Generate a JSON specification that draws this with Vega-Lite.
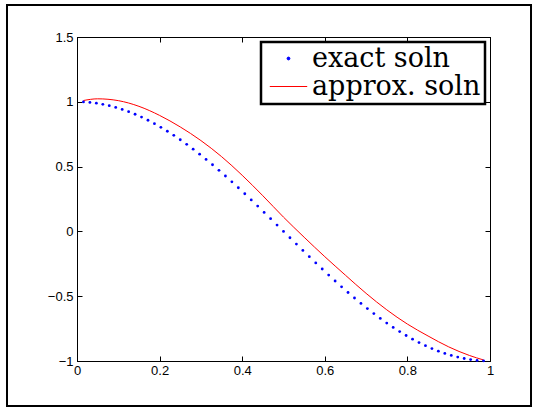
{
  "$schema": "https://vega.github.io/schema/vega-lite/v6.json",
  "width": 413,
  "height": 324,
  "autosize": {"type": "none"},
  "padding": {"left": 77, "top": 37, "right": 46, "bottom": 47},
  "background": "white",
  "config": {
    "view": {"stroke": "black", "strokeWidth": 1},
    "axis": {
      "domainColor": "black",
      "tickColor": "black",
      "labelColor": "black",
      "labelFont": "Liberation Sans",
      "labelFontSize": 13,
      "tickSize": -5,
      "tickWidth": 1,
      "domainWidth": 1,
      "grid": false,
      "title": null
    }
  },
  "data": {
    "values": [
      {"x": 0.015625, "y": 0.9988, "s": "exact soln"},
      {"x": 0.03125, "y": 0.99518, "s": "exact soln"},
      {"x": 0.046875, "y": 0.98918, "s": "exact soln"},
      {"x": 0.0625, "y": 0.98079, "s": "exact soln"},
      {"x": 0.078125, "y": 0.97003, "s": "exact soln"},
      {"x": 0.09375, "y": 0.95694, "s": "exact soln"},
      {"x": 0.109375, "y": 0.94154, "s": "exact soln"},
      {"x": 0.125, "y": 0.92388, "s": "exact soln"},
      {"x": 0.140625, "y": 0.90399, "s": "exact soln"},
      {"x": 0.15625, "y": 0.88192, "s": "exact soln"},
      {"x": 0.171875, "y": 0.85773, "s": "exact soln"},
      {"x": 0.1875, "y": 0.83147, "s": "exact soln"},
      {"x": 0.203125, "y": 0.80321, "s": "exact soln"},
      {"x": 0.21875, "y": 0.77301, "s": "exact soln"},
      {"x": 0.234375, "y": 0.74095, "s": "exact soln"},
      {"x": 0.25, "y": 0.70711, "s": "exact soln"},
      {"x": 0.265625, "y": 0.67156, "s": "exact soln"},
      {"x": 0.28125, "y": 0.63439, "s": "exact soln"},
      {"x": 0.296875, "y": 0.5957, "s": "exact soln"},
      {"x": 0.3125, "y": 0.55557, "s": "exact soln"},
      {"x": 0.328125, "y": 0.5141, "s": "exact soln"},
      {"x": 0.34375, "y": 0.4714, "s": "exact soln"},
      {"x": 0.359375, "y": 0.42756, "s": "exact soln"},
      {"x": 0.375, "y": 0.38268, "s": "exact soln"},
      {"x": 0.390625, "y": 0.33689, "s": "exact soln"},
      {"x": 0.40625, "y": 0.29028, "s": "exact soln"},
      {"x": 0.421875, "y": 0.24298, "s": "exact soln"},
      {"x": 0.4375, "y": 0.19509, "s": "exact soln"},
      {"x": 0.453125, "y": 0.14673, "s": "exact soln"},
      {"x": 0.46875, "y": 0.09802, "s": "exact soln"},
      {"x": 0.484375, "y": 0.04907, "s": "exact soln"},
      {"x": 0.5, "y": 0, "s": "exact soln"},
      {"x": 0.515625, "y": -0.04907, "s": "exact soln"},
      {"x": 0.53125, "y": -0.09802, "s": "exact soln"},
      {"x": 0.546875, "y": -0.14673, "s": "exact soln"},
      {"x": 0.5625, "y": -0.19509, "s": "exact soln"},
      {"x": 0.578125, "y": -0.24298, "s": "exact soln"},
      {"x": 0.59375, "y": -0.29028, "s": "exact soln"},
      {"x": 0.609375, "y": -0.33689, "s": "exact soln"},
      {"x": 0.625, "y": -0.38268, "s": "exact soln"},
      {"x": 0.640625, "y": -0.42756, "s": "exact soln"},
      {"x": 0.65625, "y": -0.4714, "s": "exact soln"},
      {"x": 0.671875, "y": -0.5141, "s": "exact soln"},
      {"x": 0.6875, "y": -0.55557, "s": "exact soln"},
      {"x": 0.703125, "y": -0.5957, "s": "exact soln"},
      {"x": 0.71875, "y": -0.63439, "s": "exact soln"},
      {"x": 0.734375, "y": -0.67156, "s": "exact soln"},
      {"x": 0.75, "y": -0.70711, "s": "exact soln"},
      {"x": 0.765625, "y": -0.74095, "s": "exact soln"},
      {"x": 0.78125, "y": -0.77301, "s": "exact soln"},
      {"x": 0.796875, "y": -0.80321, "s": "exact soln"},
      {"x": 0.8125, "y": -0.83147, "s": "exact soln"},
      {"x": 0.828125, "y": -0.85773, "s": "exact soln"},
      {"x": 0.84375, "y": -0.88192, "s": "exact soln"},
      {"x": 0.859375, "y": -0.90399, "s": "exact soln"},
      {"x": 0.875, "y": -0.92388, "s": "exact soln"},
      {"x": 0.890625, "y": -0.94154, "s": "exact soln"},
      {"x": 0.90625, "y": -0.95694, "s": "exact soln"},
      {"x": 0.921875, "y": -0.97003, "s": "exact soln"},
      {"x": 0.9375, "y": -0.98079, "s": "exact soln"},
      {"x": 0.953125, "y": -0.98918, "s": "exact soln"},
      {"x": 0.96875, "y": -0.99518, "s": "exact soln"},
      {"x": 0.984375, "y": -0.9988, "s": "exact soln"},
      {"x": 0.015625, "y": 1.010, "s": "approx. soln"},
      {"x": 0.05, "y": 1.023, "s": "approx. soln"},
      {"x": 0.1, "y": 1.009, "s": "approx. soln"},
      {"x": 0.15, "y": 0.965, "s": "approx. soln"},
      {"x": 0.2, "y": 0.895, "s": "approx. soln"},
      {"x": 0.25, "y": 0.806, "s": "approx. soln"},
      {"x": 0.3, "y": 0.701, "s": "approx. soln"},
      {"x": 0.35, "y": 0.577, "s": "approx. soln"},
      {"x": 0.4, "y": 0.433, "s": "approx. soln"},
      {"x": 0.45, "y": 0.275, "s": "approx. soln"},
      {"x": 0.5, "y": 0.11, "s": "approx. soln"},
      {"x": 0.55, "y": -0.045, "s": "approx. soln"},
      {"x": 0.6, "y": -0.195, "s": "approx. soln"},
      {"x": 0.65, "y": -0.338, "s": "approx. soln"},
      {"x": 0.7, "y": -0.478, "s": "approx. soln"},
      {"x": 0.75, "y": -0.605, "s": "approx. soln"},
      {"x": 0.8, "y": -0.715, "s": "approx. soln"},
      {"x": 0.85, "y": -0.807, "s": "approx. soln"},
      {"x": 0.9, "y": -0.891, "s": "approx. soln"},
      {"x": 0.95, "y": -0.957, "s": "approx. soln"},
      {"x": 0.984375, "y": -0.992, "s": "approx. soln"}
    ]
  },
  "layer": [
    {
      "data": {"values": [{}]},
      "mark": {"type": "rect", "fill": null, "stroke": "black", "strokeWidth": 2, "clip": false},
      "encoding": {
        "x": {"datum": -0.1695, "type": "quantitative", "scale": {"domain": [0, 1], "nice": false, "zero": false}, "axis": null},
        "x2": {"datum": 1.0993},
        "y": {"datum": 1.747, "type": "quantitative", "scale": {"domain": [-1, 1.5], "nice": false, "zero": false}, "axis": null},
        "y2": {"datum": -1.347}
      }
    },
    {
      "transform": [{"filter": "datum.s === 'approx. soln'"}],
      "mark": {"type": "line", "strokeWidth": 1, "interpolate": "monotone"},
      "encoding": {
        "x": {"field": "x", "type": "quantitative", "axis": {"orient": "bottom", "values": [0, 0.2, 0.4, 0.6, 0.8, 1], "format": "~g", "labelFlush": false, "labelPadding": 8}},
        "y": {"field": "y", "type": "quantitative", "axis": {"orient": "left", "values": [-1, -0.5, 0, 0.5, 1, 1.5], "format": "~g", "labelPadding": 9}},
        "color": {
          "field": "s", "type": "nominal",
          "scale": {"domain": ["exact soln", "approx. soln"], "range": ["#0000ff", "#ff0000"]},
          "legend": {
            "orient": "top-right",
            "offset": 5,
            "title": null,
            "labelFont": "DejaVu Serif",
            "labelFontSize": 27,
            "labelColor": "black",
            "labelOffset": 4,
            "labelLimit": 400,
            "strokeColor": "black",
            "fillColor": "white",
            "padding": 4,
            "symbolOffset": 4,
            "symbolSize": 1400,
            "clipHeight": 25,
            "rowPadding": 0,
            "encode": {
              "legend": {"update": {"strokeWidth": {"value": 2.5}}},
              "symbols": {"update": {
                "shape": {"signal": "datum.value === 'exact soln' ? 'circle' : 'stroke'"},
                "size": {"signal": "datum.value === 'exact soln' ? 8 : 1400"},
                "fill": {"signal": "datum.value === 'exact soln' ? '#0000ff' : 'transparent'"},
                "stroke": {"signal": "datum.value === 'exact soln' ? 'transparent' : '#ff0000'"},
                "strokeWidth": {"value": 1},
                "opacity": {"value": 1}
              }}
            }
          }
        }
      }
    },
    {
      "transform": [{"filter": "datum.s === 'exact soln'"}],
      "mark": {"type": "point", "filled": true, "size": 8, "opacity": 1},
      "encoding": {
        "x": {"field": "x", "type": "quantitative", "axis": {"orient": "top", "values": [0, 0.2, 0.4, 0.6, 0.8, 1], "labels": false}},
        "y": {"field": "y", "type": "quantitative", "axis": {"orient": "right", "values": [-1, -0.5, 0, 0.5, 1, 1.5], "labels": false}},
        "color": {"field": "s", "type": "nominal"}
      }
    }
  ],
  "resolve": {"axis": {"x": "independent", "y": "independent"}}
}
